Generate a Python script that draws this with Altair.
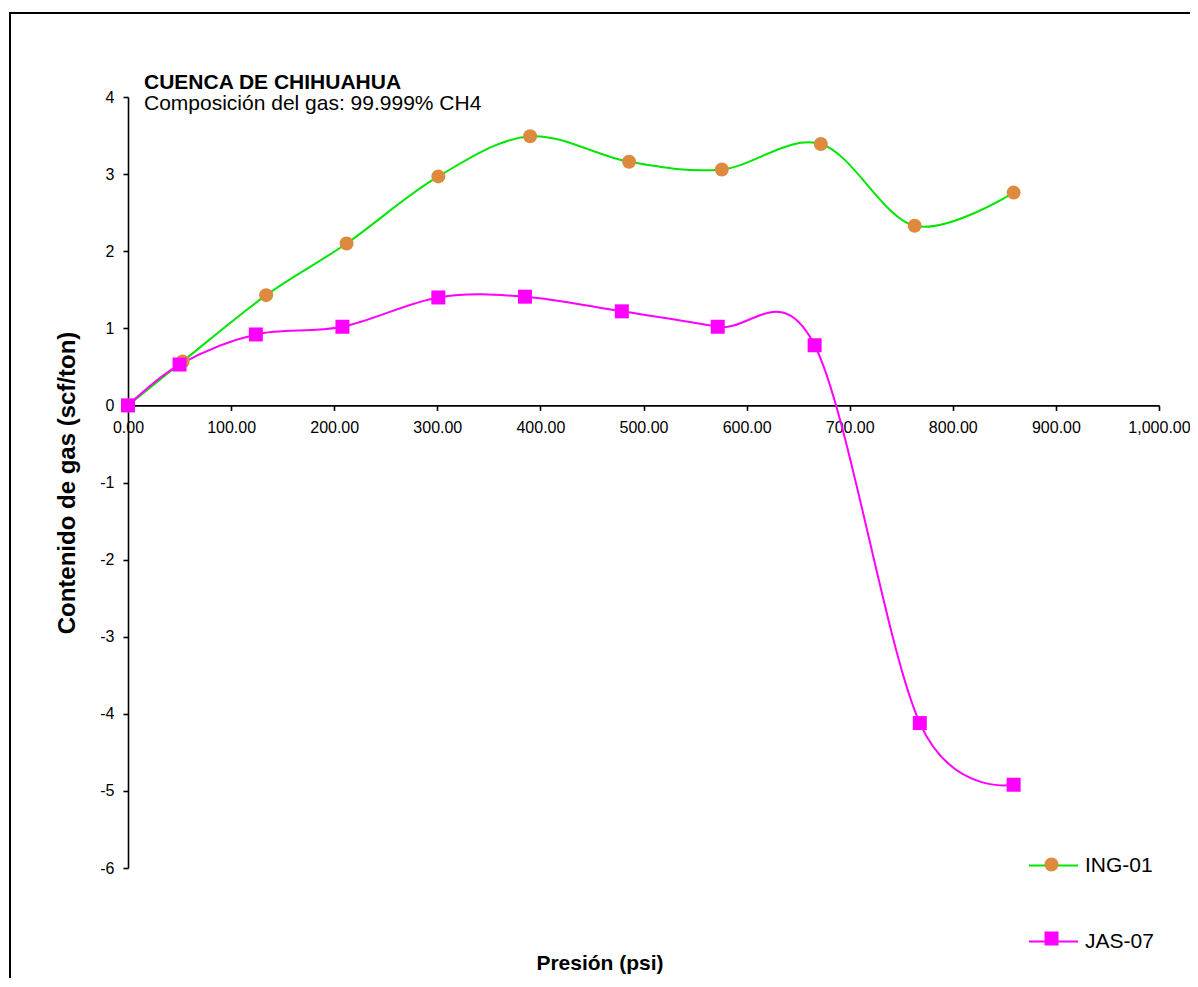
import altair as alt
import pandas as pd

series = ["ING-01", "JAS-07"]
ing_x = [0, 53, 134, 212, 301, 390, 486, 576, 672, 763, 859]
ing_y = [0, 0.57, 1.43, 2.10, 2.97, 3.49, 3.16, 3.06, 3.39, 2.33, 2.76]
jas_x = [0, 50, 124, 208, 301, 385, 479, 572, 666, 768, 859]
jas_y = [0, 0.53, 0.92, 1.02, 1.40, 1.41, 1.22, 1.02, 0.78, -4.12, -4.92]
line_colors = ["#00E600", "#FF00FF"]
marker_colors = ["#DE8A3E", "#FF00FF"]
marker_shapes = ["circle", "square"]

rows = []
for s, xs, ys in [(series[0], ing_x, ing_y), (series[1], jas_x, jas_y)]:
    for xv, yv in zip(xs, ys):
        rows.append({"x": xv, "y": yv, "s_line": s, "s_mark": s})
df = pd.DataFrame(rows)

FONT = "Liberation Sans"
W, H = 1031, 771

xenc = alt.X("x:Q", scale=alt.Scale(domain=[0, 1000], nice=False),
             axis=alt.Axis(title=None, values=list(range(0, 1001, 100)), format=",.2f",
                           offset=-(H * 0.6), grid=False, domainColor="black", domainWidth=1.6,
                           tickColor="black", tickWidth=1.6, tickSize=5, labelPadding=9,
                           labelFlush=False, labelOverlap=False, labelBound=False,
                           labelFontSize=16, labelColor="black", labelFont=FONT))
yenc = alt.Y("y:Q", scale=alt.Scale(domain=[-6, 4], nice=False),
             axis=alt.Axis(title="Contenido de gas (scf/ton)", values=list(range(-6, 5)),
                           labelExpr="'' + datum.value", grid=False, domainColor="black",
                           domainWidth=1.6, tickColor="black", tickWidth=1.6, tickSize=5,
                           labelPadding=9, labelFlush=False, labelOverlap=False,
                           labelFontSize=16, labelColor="black", labelFont=FONT,
                           titleFontSize=24, titleFont=FONT, titleFontWeight="bold",
                           titleColor="black", titlePadding=20))

base = alt.Chart(df)

frame = alt.Chart(pd.DataFrame({"a": [0]})).mark_rect(
    fill="transparent", stroke="black", strokeWidth=2
).encode(x=alt.value(-118), x2=alt.value(1300), y=alt.value(-84), y2=alt.value(1100))

lines = base.mark_line(interpolate="cardinal", strokeWidth=2).encode(
    x=xenc, y=yenc,
    stroke=alt.Stroke("s_line:N", scale=alt.Scale(range=line_colors),
                      legend=alt.Legend(title=None, orient="none", legendX=900, legendY=743,
                                        symbolType="stroke", symbolSize=2401,
                                        symbolStrokeWidth=2, labelFontSize=21,
                                        labelFont=FONT, labelColor="black",
                                        labelOffset=6, rowPadding=40, padding=0)),
)

mark_legend = alt.Legend(title=None, orient="none", legendX=913, legendY=757,
                         symbolSize=196, symbolStrokeWidth=0, labelFontSize=21,
                         labelExpr="''", rowPadding=52, padding=0)
points = base.mark_point(filled=True, size=196, opacity=1).encode(
    x="x:Q", y="y:Q",
    shape=alt.Shape("s_mark:N", scale=alt.Scale(domain=series, range=marker_shapes),
                    legend=mark_legend),
    fill=alt.Fill("s_mark:N", scale=alt.Scale(domain=series, range=marker_colors),
                  legend=mark_legend),
)

title1 = alt.Chart(pd.DataFrame({"a": [0]})).mark_text(
    align="left", baseline="alphabetic", fontSize=21, fontWeight="bold", font=FONT, color="black"
).encode(x=alt.value(16), y=alt.value(-8), text=alt.value("CUENCA DE CHIHUAHUA"))

title2 = alt.Chart(pd.DataFrame({"a": [0]})).mark_text(
    align="left", baseline="alphabetic", fontSize=21, font=FONT, color="black"
).encode(x=alt.value(16), y=alt.value(13), text=alt.value("Composición del gas: 99.999% CH4"))

xtitle = alt.Chart(pd.DataFrame({"a": [0]})).mark_text(
    align="center", baseline="alphabetic", fontSize=21, fontWeight="bold", font=FONT, color="black"
).encode(x=alt.value(472), y=alt.value(873), text=alt.value("Presión (psi)"))

chart = alt.layer(frame, lines, points, title1, title2, xtitle).properties(
    width=W, height=H,
    background="white",
    autosize=alt.AutoSizeParams(type="none"),
    padding={"left": 120, "top": 89, "right": 31, "bottom": 110},
).configure_view(stroke="transparent", strokeWidth=0)

chart.save("out.html", embed_options={"renderer": "svg", "actions": False})
